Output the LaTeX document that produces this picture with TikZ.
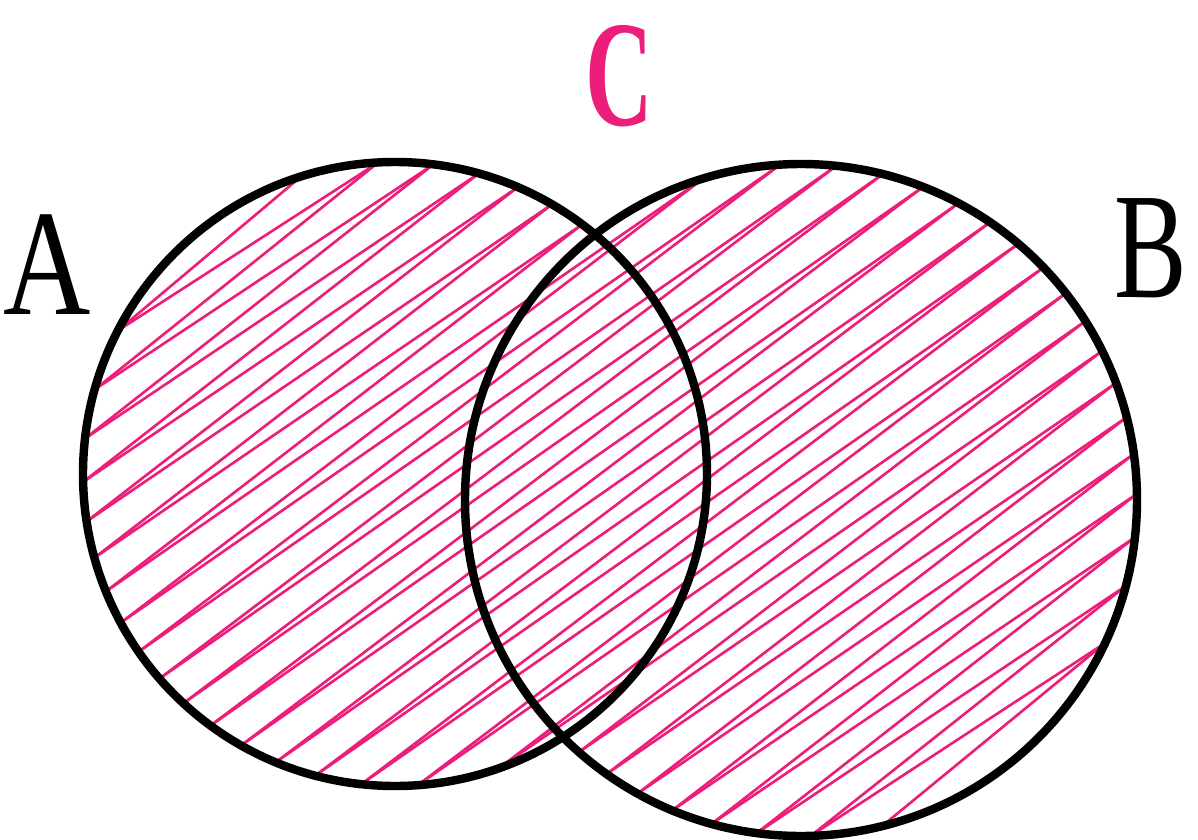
\documentclass[tikz,border=0pt]{standalone}
\usepackage{fontspec}
\setmainfont{Liberation Serif}
\usepackage{graphicx}
\definecolor{hatchpink}{RGB}{236,30,121}
\tikzset{
    setline/.style={draw=black, line width=2.4pt},
    hatchline/.style={draw=hatchpink, line width=0.75pt},
    setlabel/.style={inner sep=0pt, font=\fontsize{43}{43}\selectfont}
}

\begin{document}
\begin{tikzpicture}
    \useasboundingbox (0,0) rectangle (11.98,8.39);

    % Sets A and B
    \coordinate (cA) at (3.95,3.65);
    \coordinate (cB) at (8.01,3.39);
    \def\rA{3.12}
    \def\rB{3.36}

    % Hatching direction and step
    \def\ang{36}
    \pgfmathsetmacro{\nA}{3.65*cos(\ang)-3.95*sin(\ang)}
    \pgfmathsetmacro{\nB}{3.39*cos(\ang)-8.01*sin(\ang)}
    \pgfmathsetmacro{\uA}{3.95*cos(\ang)+3.65*sin(\ang)}
    \pgfmathsetmacro{\uB}{8.01*cos(\ang)+3.39*sin(\ang)}

    % Turning points of the scribble, on the outline
    \foreach \j in {0,...,52} {
        \pgfmathsetmacro{\off}{3.76-0.17*\j}
        \pgfmathsetmacro{\hA}{\rA*\rA-(\off-\nA)*(\off-\nA)}
        \pgfmathsetmacro{\hB}{\rB*\rB-(\off-\nB)*(\off-\nB)}
        \pgfmathsetmacro{\loA}{\hA>0 ? \uA-sqrt(max(\hA,0)) : 99}
        \pgfmathsetmacro{\hiA}{\hA>0 ? \uA+sqrt(max(\hA,0)) : -99}
        \pgfmathsetmacro{\loB}{\hB>0 ? \uB-sqrt(max(\hB,0)) : 99}
        \pgfmathsetmacro{\hiB}{\hB>0 ? \uB+sqrt(max(\hB,0)) : -99}
        \pgfmathsetmacro{\tpos}{mod(\j,2)==0 ? min(\loA,\loB) : max(\hiA,\hiB)}
        \pgfmathsetmacro{\px}{\tpos*cos(\ang)-\off*sin(\ang)}
        \pgfmathsetmacro{\py}{\tpos*sin(\ang)+\off*cos(\ang)}
        \coordinate (p\j) at (\px,\py);
    }

    % Scribble
    \begin{scope}
        \clip (cA) circle (\rA) (cB) circle (\rB);
        \foreach \j [remember=\j as \i (initially 0)] in {1,...,52}
            \draw[hatchline] (p\i) -- (p\j);
    \end{scope}

    \draw[setline] (cA) circle (\rA);
    \draw[setline] (cB) circle (\rB);

    % Labels
    \node[setlabel] (labA) at (0.47,5.74) {\scalebox{0.8}[1]{A}};
    \node[setlabel] (labB) at (11.51,5.91) {\scalebox{0.72}[1]{B}};
    \node[setlabel, text=hatchpink] (labC) at (6.195,7.63) {\scalebox{0.62}[1]{\bfseries C}};
\end{tikzpicture}
\end{document}
